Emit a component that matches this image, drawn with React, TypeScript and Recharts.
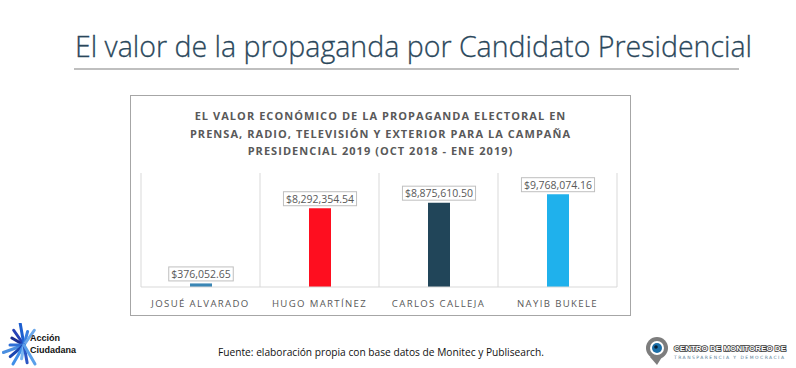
import React from "react";
import {
  BarChart,
  Bar,
  XAxis,
  YAxis,
  CartesianGrid,
  Cell,
  LabelList,
} from "recharts";

const candidates = ["JOSUÉ ALVARADO", "HUGO MARTÍNEZ", "CARLOS CALLEJA", "NAYIB BUKELE"];
const values = [376052.65, 8292354.54, 8875610.5, 9768074.16];
const barColors = ["#3a86b5", "#fe0e1f", "#214559", "#1fb1ec"];
const yDomain = [0, 12000000];

const titleLines = [
  "EL VALOR ECONÓMICO DE LA PROPAGANDA ELECTORAL EN",
  "PRENSA, RADIO, TELEVISIÓN Y EXTERIOR PARA LA CAMPAÑA",
  "PRESIDENCIAL 2019 (OCT 2018 - ENE 2019)",
];

const data = candidates.map((name, i) => ({ name, value: values[i] }));

const fmt = (v: number) =>
  "$" + v.toLocaleString("en-US", { minimumFractionDigits: 2, maximumFractionDigits: 2 });

const ValueBox = (props: any) => {
  const { x, y, width, value } = props;
  const txt = fmt(value);
  const digits = txt.replace(/[^0-9$]/g, "").length;
  const punct = txt.length - digits;
  const w = digits * 5.9 + punct * 2.7 + 6;
  const cx = x + width / 2;
  const h = 14;
  const bottom = y - 2.5;
  return (
    <g>
      <rect x={cx - w / 2} y={bottom - h} width={w} height={h} fill="#fff" stroke="#bfbfbf" strokeWidth={1} />
      <text x={cx} y={bottom - 3.2} textAnchor="middle" fontSize={10.5} fill="#595959" fontFamily="Open Sans">
        {txt}
      </text>
    </g>
  );
};

const CatTick = (props: any) => {
  const { x, y, payload } = props;
  return (
    <text x={x} y={y + 12} textAnchor="middle" fontSize={9.6} fill="#595959" fontFamily="Open Sans" letterSpacing={1.35}>
      {payload.value}
    </text>
  );
};

const RaysLogo = () => {
  const rays = [
    [-150, "#1c2f8f"], [-125, "#2541b5"], [-100, "#1d5fd0"], [-75, "#3a7fe0"],
    [-55, "#6aa7ea"], [160, "#4b8fe0"], [180, "#2f6fd6"], [140, "#1b46b0"],
    [120, "#3f8fe8"], [100, "#7ab6f0"], [80, "#2c57c4"], [60, "#5aa0ea"],
  ] as [number, string][];
  return (
    <svg width={80} height={44} style={{ position: "absolute", left: 2, top: 323 }}>
      {rays.map(([a, c], i) => {
        const r = (a * Math.PI) / 180;
        const len = 14 + (i % 3) * 4;
        return (
          <line key={i} x1={22} y1={22} x2={22 + Math.cos(r) * len} y2={22 + Math.sin(r) * len}
            stroke={c} strokeWidth={3} strokeLinecap="round" />
        );
      })}
      <text x={28} y={18} fontSize={9} fontWeight={700} fontFamily="Liberation Sans" fill="#111">Acción</text>
      <text x={28} y={30} fontSize={9} fontWeight={700} fontFamily="Liberation Sans" fill="#111">Ciudadana</text>
    </svg>
  );
};

const MonitorLogo = () => (
  <svg width={152} height={36} style={{ position: "absolute", left: 644, top: 331 }}>
    <circle cx={13} cy={17} r={11} fill="#7d7d7d" />
    <path d="M6 26 L13 34 L18 26 Z" fill="#7d7d7d" />
    <circle cx={13} cy={17} r={7} fill="#fff" />
    <circle cx={13} cy={17} r={5} fill="#1c6fa8" />
    <circle cx={12} cy={16} r={1.8} fill="#0b1f33" />
    <text x={30} y={20} fontSize={8} fontWeight={700} fontFamily="Liberation Sans" fill="#fff"
      stroke="#3a3a3a" strokeWidth={1.5} paintOrder="stroke" textLength={112} lengthAdjust="spacingAndGlyphs">
      CENTRO DE MONITOREO DE
    </text>
    <text x={30} y={28} fontSize={4.5} fontFamily="DejaVu Sans" fill="#5a7f9a" textLength={110} lengthAdjust="spacing">
      TRANSPARENCIA Y DEMOCRACIA
    </text>
  </svg>
);

export default function App() {
  return (
    <div style={{ position: "absolute", left: 0, top: 0, width: 796, height: 368, background: "#fff", overflow: "hidden", fontFamily: "Open Sans" }}>
      <svg width={796} height={80} style={{ position: "absolute", left: 0, top: 0 }}>
        <text x={75} y={57} fontSize={30} fontWeight={300} fontFamily="Open Sans" fill="#2a475b"
          stroke="#2a475b" strokeWidth={0.3} textLength={677} lengthAdjust="spacingAndGlyphs">
          El valor de la propaganda por Candidato Presidencial
        </text>
        <line x1={74} x2={739} y1={69} y2={69} stroke="#bfbfbf" strokeWidth={2} />
      </svg>

      <div style={{ position: "absolute", left: 130, top: 95, width: 501, height: 221, border: "1px solid #a6a6a6", boxSizing: "border-box" }} />

      <div style={{ position: "absolute", left: 131, top: 107, width: 499, textAlign: "center", color: "#595959", fontWeight: 700, fontSize: 11, letterSpacing: 1.05, lineHeight: "17.5px", whiteSpace: "nowrap" }}>
        {titleLines.map((l) => (
          <div key={l}>{l}</div>
        ))}
      </div>

      <div style={{ position: "absolute", left: 131, top: 96 }}>
        <BarChart width={499} height={219} data={data} margin={{ top: 77, right: 13, left: 10, bottom: 0 }}>
          <CartesianGrid
            horizontal={false}
            stroke="#d9d9d9"
            verticalCoordinatesGenerator={({ offset }: any) =>
              candidates.concat([""]).map((_, i) => offset.left + (i * offset.width) / candidates.length)
            }
          />
          <XAxis dataKey="name" height={28} tickLine={false} axisLine={{ stroke: "#d9d9d9" }} tick={<CatTick />} interval={0} />
          <YAxis hide domain={yDomain} />
          <Bar dataKey="value" barSize={22} isAnimationActive={false}>
            {data.map((d, i) => (
              <Cell key={d.name} fill={barColors[i]} />
            ))}
            <LabelList dataKey="value" content={<ValueBox />} />
          </Bar>
        </BarChart>
      </div>

      <RaysLogo />
      <div style={{ position: "absolute", left: 218, top: 345, fontSize: 10.2, color: "#111", whiteSpace: "nowrap" }}>
        Fuente: elaboración propia con base datos de Monitec y Publisearch.
      </div>
      <MonitorLogo />
    </div>
  );
}
